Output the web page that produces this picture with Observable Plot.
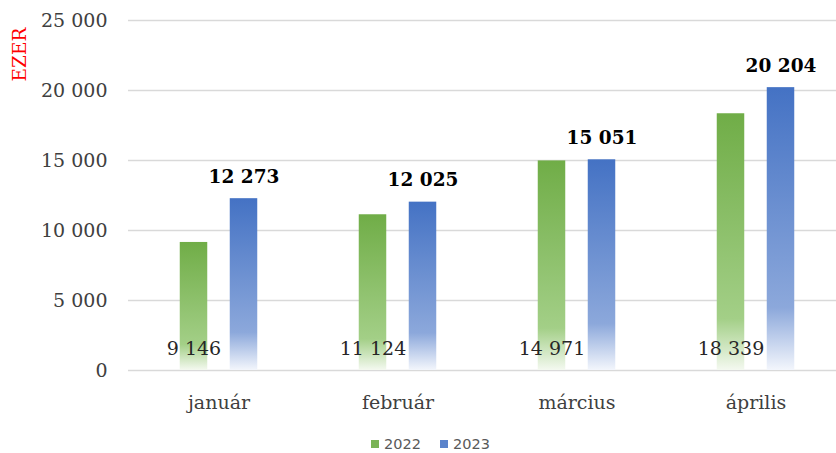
<!DOCTYPE html>
<html>
<head>
<meta charset="utf-8">
<script src="https://cdn.jsdelivr.net/npm/d3@7"></script>
<script src="https://cdn.jsdelivr.net/npm/@observablehq/plot@0.6"></script>
<style>
  body { margin: 0; background: #fff; }
  #legend { position: relative; width: 836px; height: 28px; font-family: "DejaVu Sans", sans-serif; font-size: 14.5px; color: #595959; }
  #legend .item { position: absolute; top: 10px; height: 18px; line-height: 18px; display: flex; align-items: center; }
  #legend .sw { width: 8px; height: 8px; margin-right: 5px; }
</style>
</head>
<body>
<div id="chart"></div>
<div id="legend"></div>
<script>
const months = ["január", "február", "március", "április"];
const years = ["2022", "2023"];
const values2022 = [9146, 11124, 14971, 18339];
const values2023 = [12273, 12025, 15051, 20204];
const yTicks = [0, 5000, 10000, 15000, 20000, 25000];
const yAxisTitle = "EZER";

const fmt = d => String(d).replace(/\B(?=(\d{3})+(?!\d))/g, " ");
const rows2022 = months.map((m, i) => ({month: m, year: years[0], value: values2022[i]}));
const rows2023 = months.map((m, i) => ({month: m, year: years[1], value: values2023[i]}));

const serif = "DejaVu Serif, serif";

const svg = Plot.plot({
  width: 836,
  height: 425,
  marginLeft: 128,
  marginRight: 0,
  marginTop: 20,
  marginBottom: 55,
  style: {fontFamily: serif, fontSize: "19px", background: "#fff", color: "#404040"},
  x: {domain: months, range: [128.25, 845.75], padding: 0, axis: null},
  y: {domain: [0, 25000], axis: null},
  marks: [
    Plot.ruleY(yTicks, {stroke: "#d9d9d9", strokeWidth: 1.3}),
    Plot.axisY(yTicks, {tickSize: 0, tickPadding: 21, tickFormat: fmt, fontSize: 19, fill: "#404040", label: null}),
    Plot.text(months, {x: d => d, frameAnchor: "bottom", dy: 32, lineAnchor: "middle", fontSize: 19, fill: "#404040"}),
    Plot.barY(rows2022, {x: "month", y: "value", fill: "url(#g2022)", insetLeft: 50.75, insetRight: 100.75}),
    Plot.barY(rows2023, {x: "month", y: "value", fill: "url(#g2023)", insetLeft: 100.75, insetRight: 50.75}),
    Plot.text(rows2022, {x: "month", frameAnchor: "bottom", text: d => fmt(d.value), dx: -25, dy: -22, lineAnchor: "middle", fontSize: 19, fill: "#262626"}),
    Plot.text(rows2023, {x: "month", y: "value", text: d => fmt(d.value), dx: 25, dy: -22, lineAnchor: "middle", fontSize: 18.5, fontWeight: "bold", fill: "#000"}),
    Plot.text([yAxisTitle], {frameAnchor: "top-left", text: d => d, rotate: -90, dx: -108, dy: 34, fontSize: 18.5, fill: "#ff0000", textAnchor: "middle", lineAnchor: "middle"})
  ]
});

const defs = d3.select(svg).insert("defs", ":first-child");
defs.html(`
  <linearGradient id="g2022" x1="0" y1="0" x2="0" y2="1">
    <stop offset="0" stop-color="#70ad47"/>
    <stop offset="0.8" stop-color="#a3cf87"/>
    <stop offset="1" stop-color="#f4f9f0"/>
  </linearGradient>
  <linearGradient id="g2023" x1="0" y1="0" x2="0" y2="1">
    <stop offset="0" stop-color="#4472c4"/>
    <stop offset="0.78" stop-color="#8ca8db"/>
    <stop offset="1" stop-color="#f3f6fc"/>
  </linearGradient>
`);

document.getElementById("chart").appendChild(svg);

const legendColors = ["#7ab356", "#5b83cb"];
const legendLefts = [371, 440];
const legend = d3.select("#legend");
years.forEach((y, i) => {
  const it = legend.append("div").attr("class", "item").style("left", legendLefts[i] + "px");
  it.append("div").attr("class", "sw").style("background", legendColors[i]);
  it.append("span").text(y);
});
</script>
</body>
</html>
